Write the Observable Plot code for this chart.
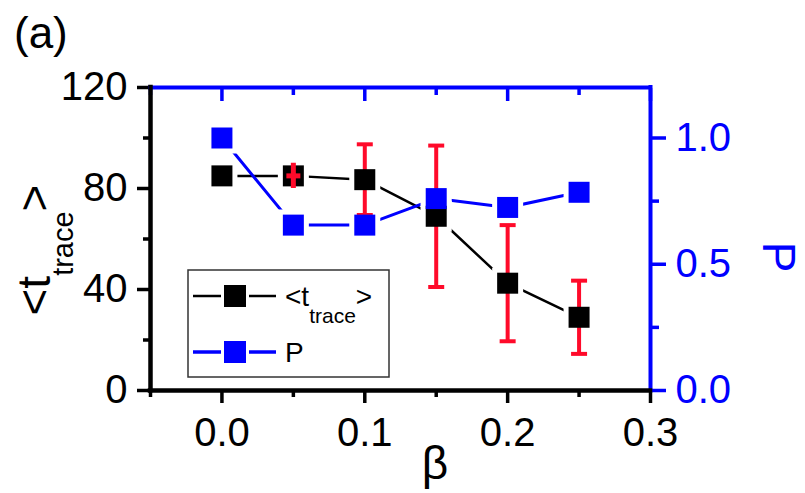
<!DOCTYPE html>
<html><head><meta charset="utf-8">
<script src="https://cdn.jsdelivr.net/npm/d3@7"></script>
<script src="https://cdn.jsdelivr.net/npm/@observablehq/plot@0.6"></script>
<style>
html,body{margin:0;padding:0;background:#fff;}
#chart{width:805px;height:493px;}
svg{display:block;}
</style></head><body><div id="chart"></div>
<script>
// ---- data ----
const beta = [0, 0.05, 0.1, 0.15, 0.2, 0.25];
const tTrace = [85, 85, 83.5, 69, 42.5, 29];
const tTraceErr = [0, 5, 14, 28, 23, 14.5];
const pValues = [1.0, 0.655, 0.655, 0.76, 0.725, 0.785];
const xDomain = [-0.05, 0.3];
const yDomain = [0, 120];
const xTicks = [0, 0.1, 0.2, 0.3];
const xMinorTicks = [-0.05, 0.05, 0.15, 0.25];
const yTicks = [0, 40, 80, 120];
const yMinorTicks = [20, 60, 100];
const pTicks = [0, 0.5, 1.0];
const pMinorTicks = [0.25, 0.75];
const panelLabel = "(a)";
const xLabel = "β";
const pLabel = "P";

const BLACK = "#000000", BLUE = "#0000ff", RED = "#ff0a2a";
const FONT = "'Liberation Sans', Arial, Helvetica, sans-serif";
const pToY = p => p * 100; // right axis (0–1.2) shares the left axis range (0–120)

const rows = beta.map((b, i) => ({
  beta: b, t: tTrace[i], err: tTraceErr[i],
  lo: tTrace[i] - tTraceErr[i], hi: tTrace[i] + tTraceErr[i],
  pY: pToY(pValues[i])
}));

const squareSym = {draw(ctx, size) { const h = Math.sqrt(size / Math.PI); ctx.rect(-h, -h, 2 * h, 2 * h); }};
const hCap = {draw(ctx, size) { const h = Math.sqrt(size / Math.PI); ctx.moveTo(-h, 0); ctx.lineTo(h, 0); }};

const SQ = 10.5;
const bigErr = d => d.err >= 8;
const smallErr = d => d.err > 0 && d.err < 8;

const plot = Plot.plot({
  width: 805, height: 493,
  marginLeft: 150, marginRight: 155, marginTop: 87, marginBottom: 103,
  style: {fontFamily: FONT, background: "white", overflow: "visible"},
  x: {domain: xDomain, axis: null, label: null},
  y: {domain: yDomain, axis: null, label: null},
  marks: [
    // axes (ticks + labels)
    Plot.axisX(xTicks, {anchor: "bottom", tickSize: 13, tickPadding: 14, fontSize: 40, strokeWidth: 3.5,
      tickFormat: d => d.toFixed(1), stroke: BLACK, fill: BLACK, label: null}),
    Plot.axisX(xMinorTicks, {anchor: "bottom", tickSize: 7, strokeWidth: 3.5, tickFormat: () => "", stroke: BLACK, label: null}),
    Plot.axisX(xTicks, {anchor: "top", tickSize: 13, dy: 13, strokeWidth: 3.5, tickFormat: () => "", stroke: BLUE, label: null}),
    Plot.axisX(xMinorTicks, {anchor: "top", tickSize: 7, dy: 7, strokeWidth: 3.5, tickFormat: () => "", stroke: BLUE, label: null}),
    Plot.axisY(yTicks, {anchor: "left", tickSize: 13, tickPadding: 10, fontSize: 40, strokeWidth: 3.5,
      stroke: BLACK, fill: BLACK, label: null}),
    Plot.axisY(yMinorTicks, {anchor: "left", tickSize: 7, strokeWidth: 3.5, tickFormat: () => "", stroke: BLACK, label: null}),
    Plot.axisY(pTicks.map(pToY), {anchor: "right", tickSize: 15, tickPadding: 10, fontSize: 40, strokeWidth: 3.5,
      tickFormat: d => (d / 100).toFixed(1), stroke: BLUE, fill: BLUE, label: null}),
    Plot.axisY(pMinorTicks.map(pToY), {anchor: "right", tickSize: 8, strokeWidth: 3.5, tickFormat: () => "", stroke: BLUE, label: null}),
    // frame
    Plot.ruleY([yDomain[1]], {stroke: BLUE, strokeWidth: 4, strokeLinecap: "square"}),
    Plot.ruleX([xDomain[1]], {stroke: BLUE, strokeWidth: 4, strokeLinecap: "square"}),
    Plot.ruleX([xDomain[0]], {stroke: BLACK, strokeWidth: 4.5, strokeLinecap: "square"}),
    Plot.ruleY([yDomain[0]], {stroke: BLACK, strokeWidth: 4.5, strokeLinecap: "square"}),
    // series lines
    Plot.line(rows, {x: "beta", y: "t", stroke: BLACK, strokeWidth: 2.5}),
    Plot.line(rows, {x: "beta", y: "pY", stroke: BLUE, strokeWidth: 3}),
    // white halos to create the gaps around markers
    Plot.dot(rows, {x: "beta", y: "t", symbol: squareSym, r: SQ, fill: "white", stroke: "white", strokeWidth: 10}),
    Plot.dot(rows, {x: "beta", y: "pY", symbol: squareSym, r: SQ, fill: "white", stroke: "white", strokeWidth: 10}),
    // error bars
    Plot.ruleX(rows.filter(bigErr), {x: "beta", y1: "lo", y2: "hi", stroke: RED, strokeWidth: 4}),
    Plot.dot(rows.filter(bigErr), {x: "beta", y: "lo", symbol: hCap, r: 8, stroke: RED, strokeWidth: 4}),
    Plot.dot(rows.filter(bigErr), {x: "beta", y: "hi", symbol: hCap, r: 8, stroke: RED, strokeWidth: 4}),
    // markers
    Plot.dot(rows, {x: "beta", y: "t", symbol: squareSym, r: SQ, fill: BLACK, stroke: "none"}),
    Plot.dot(rows, {x: "beta", y: "pY", symbol: squareSym, r: SQ, fill: BLUE, stroke: "none"}),
    // small error bar drawn on top of its marker
    Plot.ruleX(rows.filter(smallErr), {x: "beta", y1: "lo", y2: "hi", stroke: RED, strokeWidth: 5}),
    Plot.dot(rows.filter(smallErr), {x: "beta", y: "t", symbol: hCap, r: 7, stroke: RED, strokeWidth: 5})
  ]
});

document.getElementById("chart").appendChild(plot);

// ---- labels and legend ----
const svg = d3.select(plot);
const g = svg.append("g").attr("font-family", FONT).attr("text-anchor", "start");

g.append("text").attr("x", 14).attr("y", 48).attr("text-anchor", "start")
  .attr("font-size", 44).attr("fill", BLACK).text(panelLabel);

// left axis label <t_trace>
const yl = g.append("text").attr("transform", "translate(50,250) rotate(-90)")
  .attr("text-anchor", "middle").attr("fill", BLACK).attr("font-size", 46);
yl.append("tspan").text("<t");
yl.append("tspan").attr("font-size", 29).attr("dy", 23).text("trace");
yl.append("tspan").attr("dy", -23).text(">");

// right axis label P
g.append("text").attr("transform", "translate(763,257) rotate(90)")
  .attr("text-anchor", "middle").attr("fill", BLUE).attr("font-size", 46).text(pLabel);

// x axis label beta
g.append("text").attr("x", 435).attr("y", 479).attr("text-anchor", "middle")
  .attr("fill", BLACK).attr("font-size", 46).text(xLabel);

// legend
const lg = g.append("g");
lg.append("rect").attr("x", 188).attr("y", 270).attr("width", 201).attr("height", 107)
  .attr("fill", "white").attr("stroke", "#333").attr("stroke-width", 1.5);
const entries = [
  {y: 296, color: BLACK, sw: 2.5},
  {y: 352, color: BLUE, sw: 3.5}
];
entries.forEach(e => {
  lg.append("line").attr("x1", 193).attr("x2", 221).attr("y1", e.y).attr("y2", e.y).attr("stroke", e.color).attr("stroke-width", e.sw);
  lg.append("line").attr("x1", 249).attr("x2", 276).attr("y1", e.y).attr("y2", e.y).attr("stroke", e.color).attr("stroke-width", e.sw);
  lg.append("rect").attr("x", 224).attr("y", e.y - 11).attr("width", 22).attr("height", 22).attr("fill", e.color);
});
const l1 = lg.append("text").attr("x", 285).attr("y", 306).attr("text-anchor", "start")
  .attr("font-size", 28).attr("fill", BLACK);
l1.append("tspan").text("<t");
l1.append("tspan").attr("font-size", 21).attr("dy", 17).text("trace");
l1.append("tspan").attr("dy", -17).text(">");
lg.append("text").attr("x", 285).attr("y", 362).attr("text-anchor", "start")
  .attr("font-size", 28).attr("fill", BLACK).text(pLabel);
</script>
</body></html>
